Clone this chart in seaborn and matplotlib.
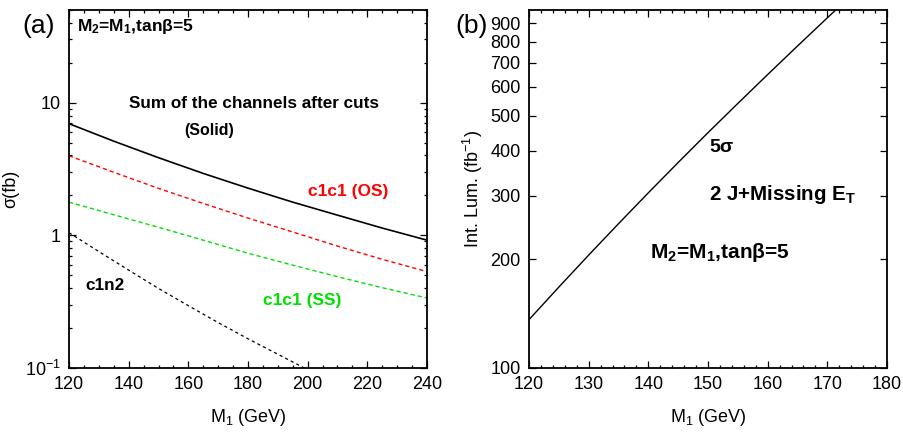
import numpy as np
import pandas as pd
import matplotlib
matplotlib.use("Agg")
import matplotlib.pyplot as plt
import seaborn as sns
from matplotlib.ticker import MultipleLocator, FixedLocator, FixedFormatter, LogLocator, NullFormatter

# ---- cross sections after cuts (fb) vs M1 (GeV) ----
m1_grid = [120, 135, 150, 165, 180, 195, 210, 225, 240]
sum_after_cuts = [6.95, 5.13, 3.85, 2.93, 2.27, 1.78, 1.42, 1.135, 0.92]
c1c1_os = [3.98, 2.99, 2.26, 1.74, 1.35, 1.06, 0.83, 0.66, 0.533]
c1c1_ss = [1.78, 1.43, 1.15, 0.92, 0.733, 0.596, 0.488, 0.403, 0.337]
m1_c1n2 = [120, 130, 140, 150, 160, 170, 180, 190, 200]
c1n2 = [1.047, 0.755, 0.547, 0.398, 0.295, 0.220, 0.166, 0.127, 0.097]

# ---- 5 sigma integrated luminosity (fb^-1) vs M1 (GeV) ----
m1_lum = [120, 125, 130, 135, 140, 145, 150, 155, 160, 165, 170, 172]
lum_5sigma = [136.1, 167.5, 205.4, 250.9, 305.5, 370.7, 448.4, 540.1, 649.4, 778.9, 932.4, 1001.2]

left_xticks = [120, 140, 160, 180, 200, 220, 240]
right_xticks = [120, 130, 140, 150, 160, 170, 180]
right_yticks = [100, 200, 300, 400, 500, 600, 700, 800, 900]

sns.set_theme(style="ticks")
plt.rcParams.update({
    "font.family": ["Liberation Sans", "DejaVu Sans"],
    "mathtext.default": "regular",
    "text.color": "black",
    "axes.labelcolor": "black",
    "xtick.direction": "in",
    "ytick.direction": "in",
    "xtick.top": True,
    "ytick.right": True,
    "xtick.major.size": 5,
    "ytick.major.size": 5,
    "xtick.minor.size": 2.5,
    "ytick.minor.size": 2.5,
    "xtick.major.width": 0.9,
    "ytick.major.width": 0.9,
    "xtick.minor.width": 0.9,
    "ytick.minor.width": 0.9,
    "axes.linewidth": 1.3,
    "axes.edgecolor": "black",
    "xtick.color": "black",
    "ytick.color": "black",
    "xtick.labelsize": 13,
    "ytick.labelsize": 13,
    "axes.labelsize": 13,
})

W, H = 904, 433
fig = plt.figure(figsize=(W / 100, H / 100), dpi=100)
ax1 = fig.add_axes([69 / W, 1 - 368 / H, 358 / W, 358 / H])
ax2 = fig.add_axes([529 / W, 1 - 368 / H, 358 / W, 358 / H])

sigma_df = pd.concat([
    pd.DataFrame({"M1": m1_grid, "sigma": sum_after_cuts, "channel": "sum"}),
    pd.DataFrame({"M1": m1_grid, "sigma": c1c1_os, "channel": "c1c1 (OS)"}),
    pd.DataFrame({"M1": m1_grid, "sigma": c1c1_ss, "channel": "c1c1 (SS)"}),
    pd.DataFrame({"M1": m1_c1n2, "sigma": c1n2, "channel": "c1n2"}),
])
styles = {
    "sum": dict(color="black", lw=1.2, ls="-"),
    "c1c1 (OS)": dict(color="#ff0000", lw=1.0, ls=(0, (3, 2.2))),
    "c1c1 (SS)": dict(color="#00e000", lw=1.0, ls=(0, (3, 2.2))),
    "c1n2": dict(color="black", lw=0.9, ls=(0, (2.5, 2.5))),
}
for name, st in styles.items():
    sub = sigma_df[sigma_df["channel"] == name]
    sns.lineplot(data=sub, x="M1", y="sigma", ax=ax1, estimator=None, sort=False,
                 color=st["color"], linewidth=st["lw"], linestyle=st["ls"], legend=False)

ax1.set_yscale("log")
ax1.set_xlim(120, 240)
ax1.set_ylim(0.1, 50)
ax1.xaxis.set_major_locator(FixedLocator(left_xticks))
ax1.xaxis.set_minor_locator(MultipleLocator(5))
ax1.yaxis.set_major_locator(FixedLocator([0.1, 1, 10]))
ax1.yaxis.set_major_formatter(FixedFormatter(["10$^{-1}$", "1", "10"]))
ax1.yaxis.set_minor_locator(LogLocator(base=10, subs=np.arange(2, 10)))
ax1.yaxis.set_minor_formatter(NullFormatter())
ax1.set_xlabel("M$_1$ (GeV)", labelpad=10)
ax1.set_ylabel("σ(fb)", labelpad=4)

lum_df = pd.DataFrame({"M1": m1_lum, "lum": lum_5sigma})
sns.lineplot(data=lum_df, x="M1", y="lum", ax=ax2, estimator=None, sort=False,
             color="black", linewidth=1.0)
ax2.set_yscale("log")
ax2.set_xlim(120, 180)
ax2.set_ylim(100, 980)
ax2.xaxis.set_major_locator(FixedLocator(right_xticks))
ax2.xaxis.set_minor_locator(MultipleLocator(2))
ax2.yaxis.set_major_locator(FixedLocator(right_yticks))
ax2.yaxis.set_major_formatter(FixedFormatter([str(v) for v in right_yticks]))
ax2.yaxis.set_minor_locator(FixedLocator([]))
ax2.set_xlabel("M$_1$ (GeV)", labelpad=10)
ax2.set_ylabel("Int. Lum. (fb$^{-1}$)", labelpad=4)

for ax in (ax1, ax2):
    for side in ("top", "right", "bottom", "left"):
        ax.spines[side].set_visible(True)
        ax.spines[side].set_color("black")
    ax.tick_params(which="both", pad=6)


def ftxt(x, y, s, **kw):
    fig.text(x / W, 1 - y / H, s, **kw)


note = dict(family="Liberation Sans", weight="bold", ha="left", va="center")
ftxt(22, 26, "(a)", fontsize=19, ha="left", va="center")
ftxt(455, 26, "(b)", fontsize=19, ha="left", va="center")

ftxt(77, 27, "M$_2$=M$_1$,tanβ=5", fontsize=12.5, **note)
ftxt(129, 103, "Sum of the channels after cuts", fontsize=12.3, **note)
ftxt(184, 131, "(Solid)", fontsize=11.5, **note)
ftxt(308, 192, "c1c1 (OS)", fontsize=12.5, color="#ff0000", **note)
ftxt(263, 300, "c1c1 (SS)", fontsize=12.5, color="#00e000", **note)
ftxt(85, 285, "c1n2", fontsize=12.3, color="black", **note)

ftxt(709, 147, "5σ", fontsize=14, **note)
ftxt(709, 195, "2 J+Missing E$_{T}$", fontsize=14.8, **note)
ftxt(650, 253, "M$_2$=M$_1$,tanβ=5", fontsize=15, **note)

fig.savefig("out.png", dpi=100)
